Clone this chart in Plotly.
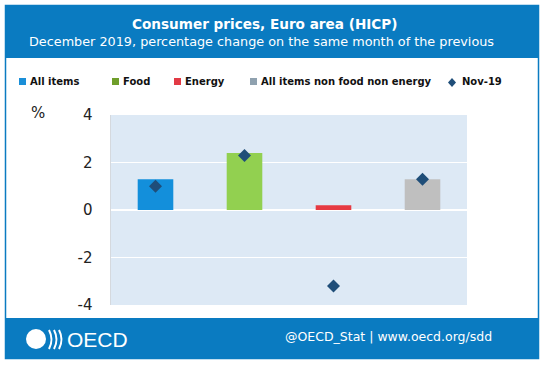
import plotly.graph_objects as go

categories = ["All items", "Food", "Energy", "All items non food non energy"]
dec19 = [1.3, 2.4, 0.2, 1.3]
nov19 = [1.0, 2.3, -3.2, 1.3]
bar_colors = ["#138fdb", "#92d050", "#e63a42", "#bfbfbf"]
legend_colors = ["#1a8fd8", "#6f9e2b", "#e23a45", "#8fa1af"]
y_ticks = [-4, -2, 0, 2, 4]

W, H = 544, 365
L, R, T, B = 111, 467, 115, 305

def px(x):
    return (x - L) / (R - L)

def py(y):
    return (B - y) / (B - T)

FONT = "DejaVu Sans"
xs = list(range(len(categories)))

fig = go.Figure()
fig.add_trace(go.Bar(x=xs, y=dec19, marker=dict(color=bar_colors, line=dict(width=0)),
                     width=0.4, showlegend=False, hoverinfo="skip"))
fig.add_trace(go.Scatter(x=xs, y=nov19, mode="markers",
                         marker=dict(symbol="diamond", size=10, color="#1f4e79"),
                         showlegend=False, hoverinfo="skip"))

shapes = []
shapes.append(dict(type="rect", xref="paper", yref="paper", x0=px(5), x1=px(539), y0=py(5), y1=py(58),
                   fillcolor="#0a7bc1", line=dict(width=0), layer="below"))
shapes.append(dict(type="rect", xref="paper", yref="paper", x0=px(5), x1=px(539), y0=py(318), y1=py(359),
                   fillcolor="#0a7bc1", line=dict(width=0), layer="below"))
shapes.append(dict(type="rect", xref="paper", yref="paper", x0=px(5.5), x1=px(538.5), y0=py(5.5), y1=py(358.5),
                   fillcolor="rgba(0,0,0,0)", line=dict(width=1.5, color="#0a7bc1"), layer="below"))

annotations = [
    dict(text="<b>Consumer prices, Euro area (HICP)</b>", x=px(264), y=py(24), xref="paper", yref="paper",
         showarrow=False, font=dict(family=FONT, size=13.6, color="white"), xanchor="center", yanchor="middle"),
    dict(text="December 2019, percentage change on the same month of the previous", x=px(261), y=py(42),
         xref="paper", yref="paper", showarrow=False, font=dict(family=FONT, size=12.8, color="white"),
         xanchor="center", yanchor="middle"),
    dict(text="%", x=px(38), y=py(113), xref="paper", yref="paper", showarrow=False,
         font=dict(family=FONT, size=15, color="#222222"), xanchor="center", yanchor="middle"),
    dict(text="@OECD_Stat | www.oecd.org/sdd", x=px(494), y=py(336), xref="paper", yref="paper",
         showarrow=False, font=dict(family=FONT, size=12.5, color="white"), xanchor="right", yanchor="middle"),
    dict(text="OECD", x=px(65), y=py(339), xref="paper", yref="paper", showarrow=False,
         font=dict(family="Liberation Sans", size=21, color="white"), xanchor="left", yanchor="middle"),
]

leg_sq_x = [19, 112, 174, 250]
for i, name in enumerate(categories):
    x0 = leg_sq_x[i]
    shapes.append(dict(type="rect", xref="paper", yref="paper", x0=px(x0), x1=px(x0 + 7),
                       y0=py(78), y1=py(85), fillcolor=legend_colors[i], line=dict(width=0)))
    annotations.append(dict(text="<b>" + name + "</b>", x=px(x0 + 9), y=py(81.5), xref="paper", yref="paper",
                            showarrow=False, font=dict(family=FONT, size=10, color="#111111"),
                            xanchor="left", yanchor="middle"))
shapes.append(dict(type="path", xref="paper", yref="paper",
                   path="M {} {} L {} {} L {} {} L {} {} Z".format(px(452), py(78), px(456), py(82.5),
                                                                    px(452), py(87), px(448), py(82.5)),
                   fillcolor="#1f4e79", line=dict(width=0)))
annotations.append(dict(text="<b>Nov-19</b>", x=px(460), y=py(82), xref="paper", yref="paper",
                        showarrow=False, font=dict(family=FONT, size=10, color="#111111"),
                        xanchor="left", yanchor="middle"))

shapes.append(dict(type="circle", xref="paper", yref="paper", x0=px(26), x1=px(46), y0=py(329), y1=py(349),
                   fillcolor="white", line=dict(width=0)))
for dx in [49, 54, 59]:
    shapes.append(dict(type="path", xref="paper", yref="paper",
                       path="M {} {} Q {} {} {} {}".format(px(dx), py(330), px(dx + 5), py(339.5), px(dx), py(349)),
                       line=dict(color="white", width=2)))

fig.update_layout(
    width=W, height=H,
    margin=dict(l=L, r=W - R, t=T, b=H - B, pad=0),
    paper_bgcolor="white",
    plot_bgcolor="#dde9f5",
    shapes=shapes,
    annotations=annotations,
    showlegend=False,
    xaxis=dict(range=[-0.5, 3.5], showticklabels=False, showgrid=False, zeroline=False, fixedrange=True),
    yaxis=dict(range=[-4, 4], tickvals=y_ticks, ticktext=[str(v) for v in y_ticks],
               showgrid=True, gridcolor="white", gridwidth=1.5, zeroline=True, zerolinecolor="white",
               zerolinewidth=1.5, showline=True, linecolor="#d5d9de", linewidth=1.5, fixedrange=True,
               tickfont=dict(family=FONT, size=15, color="#222222"), ticklabelstandoff=14),
)

fig.write_html("out.html", config={"displayModeBar": False, "staticPlot": True},
               post_script="document.body.style.margin='0';document.body.style.overflow='hidden';")
